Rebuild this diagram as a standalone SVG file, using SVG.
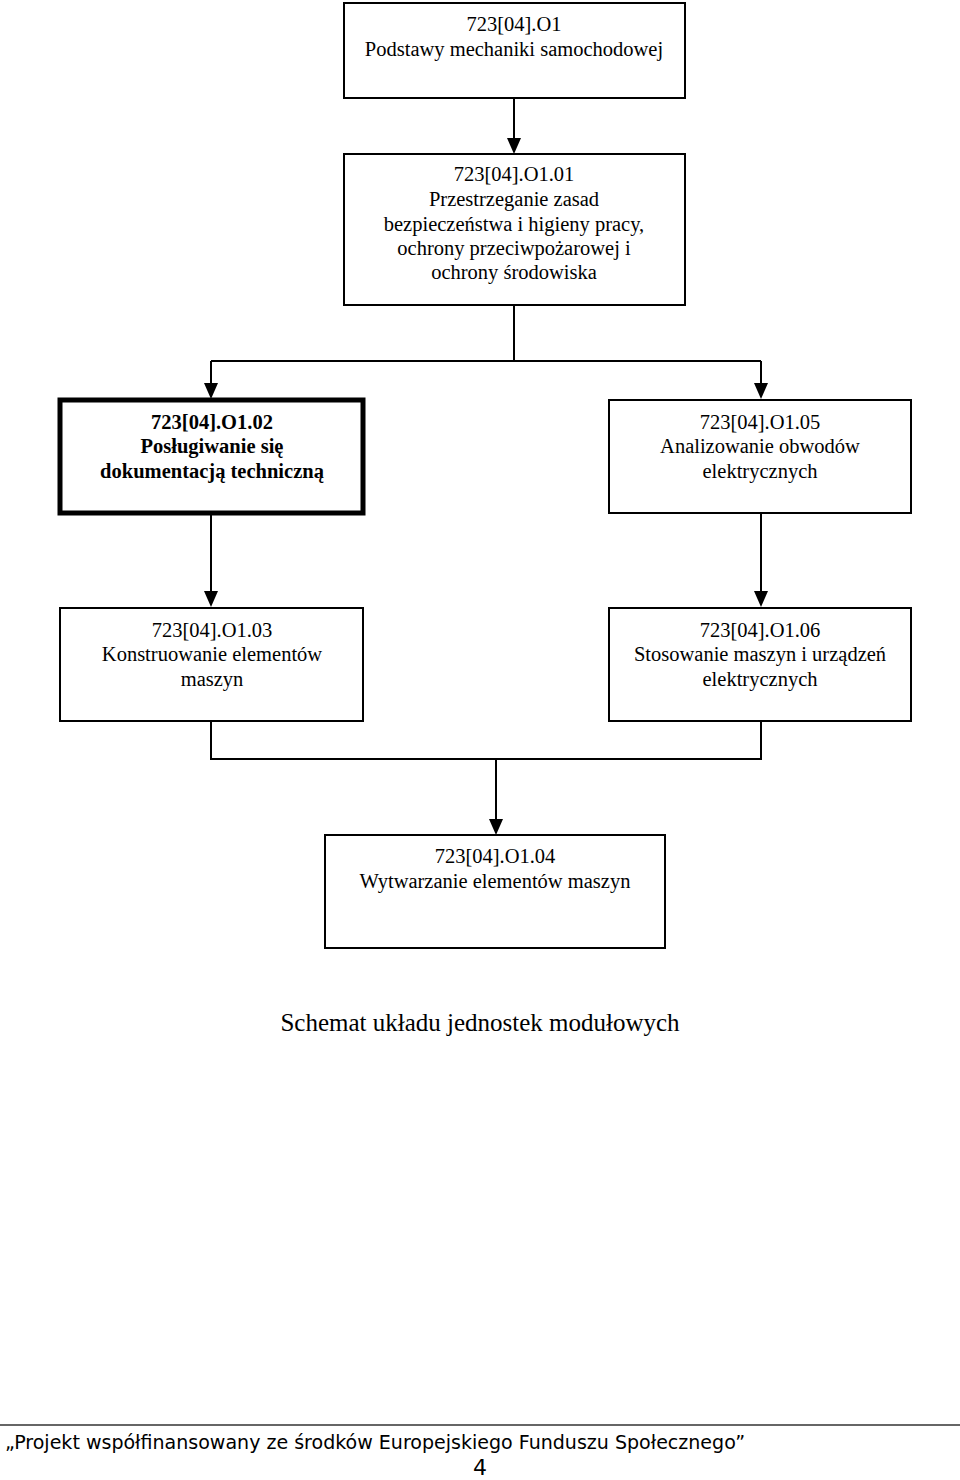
<svg xmlns="http://www.w3.org/2000/svg" width="960" height="1480" viewBox="0 0 960 1480">
<style>
.box{fill:#fff;stroke:#000;stroke-width:2}
.bold{fill:#fff;stroke:#000;stroke-width:5}
.t{font-family:"Liberation Serif","Times New Roman",serif;font-size:20.5px;fill:#000;text-anchor:middle}
.tb{font-family:"Liberation Serif","Times New Roman",serif;font-size:20.5px;font-weight:bold;fill:#000;text-anchor:middle}
.c{fill:none;stroke:#000;stroke-width:2}
</style>
<rect width="960" height="1480" fill="#fff"/>
<g id="connectors">
<path class="c" d="M514,98 V138"/>
<path d="M507,138 H521 L514,154 Z"/>
<path class="c" d="M514,305 V361 M211,361 H761 M211,361 V383 M761,361 V383"/>
<path d="M204,383 H218 L211,399 Z"/>
<path d="M754,383 H768 L761,399 Z"/>
<path class="c" d="M211,514 V591 M761,513 V591"/>
<path d="M204,591 H218 L211,607 Z"/>
<path d="M754,591 H768 L761,607 Z"/>
<path class="c" d="M211,721 V759 H761 V721 M496,759 V819"/>
<path d="M489,819 H503 L496,835 Z"/>
</g>
<g id="n1">
<rect class="box" x="344" y="3" width="341" height="95"/>
<text class="t" x="514" y="31">723[04].O1</text>
<text class="t" x="514" y="56">Podstawy mechaniki samochodowej</text>
</g>
<g id="n2">
<rect class="box" x="344" y="154" width="341" height="151"/>
<text class="t" x="514" y="181">723[04].O1.01</text>
<text class="t" x="514" y="206">Przestrzeganie zasad</text>
<text class="t" x="514" y="231">bezpieczeństwa i higieny pracy,</text>
<text class="t" x="514" y="255">ochrony przeciwpożarowej i</text>
<text class="t" x="514" y="279">ochrony środowiska</text>
</g>
<g id="n3">
<rect class="bold" x="60" y="400" width="303" height="113"/>
<text class="tb" x="212" y="429">723[04].O1.02</text>
<text class="tb" x="212" y="453">Posługiwanie się</text>
<text class="tb" x="212" y="478">dokumentacją techniczną</text>
</g>
<g id="n5">
<rect class="box" x="609" y="400" width="302" height="113"/>
<text class="t" x="760" y="429">723[04].O1.05</text>
<text class="t" x="760" y="453">Analizowanie obwodów</text>
<text class="t" x="760" y="478">elektrycznych</text>
</g>
<g id="n03">
<rect class="box" x="60" y="608" width="303" height="113"/>
<text class="t" x="212" y="637">723[04].O1.03</text>
<text class="t" x="212" y="661">Konstruowanie elementów</text>
<text class="t" x="212" y="686">maszyn</text>
</g>
<g id="n06">
<rect class="box" x="609" y="608" width="302" height="113"/>
<text class="t" x="760" y="637">723[04].O1.06</text>
<text class="t" x="760" y="661">Stosowanie maszyn i urządzeń</text>
<text class="t" x="760" y="686">elektrycznych</text>
</g>
<g id="n04">
<rect class="box" x="325" y="835" width="340" height="113"/>
<text class="t" x="495" y="863">723[04].O1.04</text>
<text class="t" x="495" y="888">Wytwarzanie elementów maszyn</text>
</g>
<text x="480" y="1031" font-family="Liberation Serif, serif" font-size="25" text-anchor="middle">Schemat układu jednostek modułowych</text>
<line x1="0" y1="1425" x2="960" y2="1425" stroke="#333" stroke-width="1.5"/>
<text x="5" y="1449" font-family="DejaVu Sans, sans-serif" font-size="19" textLength="740" lengthAdjust="spacingAndGlyphs">„Projekt współfinansowany ze środków Europejskiego Funduszu Społecznego”</text>
<text x="480" y="1475" font-family="DejaVu Sans, sans-serif" font-size="22" text-anchor="middle">4</text>
</svg>
